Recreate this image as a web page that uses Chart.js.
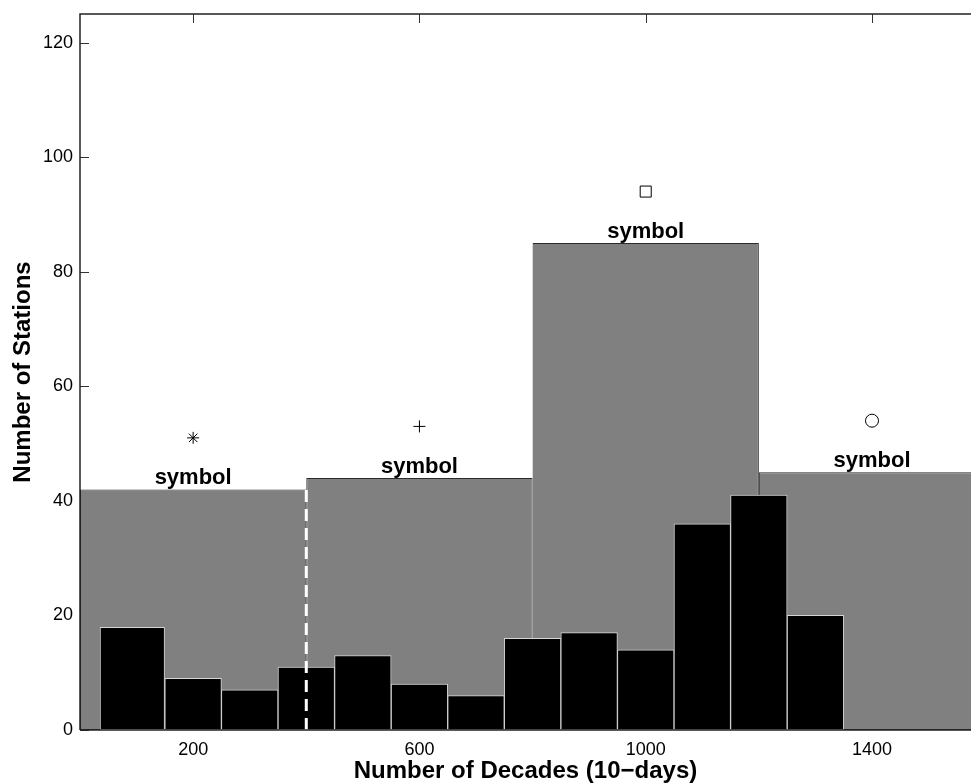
<!DOCTYPE html>
<html>
<head>
<meta charset="utf-8">
<script src="https://cdn.jsdelivr.net/npm/chart.js@4.4.1/dist/chart.umd.min.js"></script>
<style>
  html, body { margin: 0; padding: 0; background: #fff; overflow: hidden; }
</style>
</head>
<body>
<canvas id="decadeChart" width="971" height="783"></canvas>
<script>
// wide classes (gray bars behind the histogram)
let classCenters = [200, 600, 1000, 1400];
let classCounts = [42, 44, 85, 45];
let classLabels = ['symbol', 'symbol', 'symbol', 'symbol'];
// one marker above each class
let markerValues = [51, 53, 94, 54];
let markerStyles = ['star', 'cross', 'rect', 'circle'];
// histogram: bin edges and station counts
let binEdges = [35, 150, 250, 350, 450, 550, 650, 750, 850, 950, 1050, 1150, 1250, 1350];
let binCounts = [18, 9, 7, 11, 13, 8, 6, 16, 17, 14, 36, 41, 20];
// dashed threshold line
let thresholdX = 400;
let thresholdTop = 43;
// axis ticks
let xTicks = [200, 600, 1000, 1400];
let yTicks = [0, 20, 40, 60, 80, 100, 120];

const FONT = '"Liberation Sans", Arial, Helvetica, sans-serif';
const binStep = 100;    // narrowest spacing of bar centres
const classStep = 400;

let datasets = [];

datasets.push({
    type: 'bar',
    data: classCenters.map((x, i) => ({ x: x, y: classCounts[i] })),
    backgroundColor: '#808080',
    borderColor: '#2a2a2a',
    borderWidth: 1,
    borderSkipped: false,
    grouped: false,
    categoryPercentage: 1,
    barPercentage: classStep / binStep,
    order: 3
});

// each histogram bin gets its own width
binCounts.forEach((c, i) => {
    let lo = binEdges[i], hi = binEdges[i + 1];
    datasets.push({
        type: 'bar',
        data: [{ x: (lo + hi) / 2, y: c }],
        backgroundColor: '#000',
        borderColor: '#d4d4d4',
        borderWidth: 1,
        borderSkipped: false,
        grouped: false,
        categoryPercentage: 1,
        barPercentage: (hi - lo) / binStep,
        order: 2
    });
});

datasets.push({
    type: 'line',
    data: [{ x: thresholdX, y: 0 }, { x: thresholdX, y: thresholdTop }],
    borderColor: '#fff',
    borderWidth: 3,
    borderDash: [12, 7],
    pointRadius: 0,
    order: 1
});

datasets.push({
    type: 'line',
    data: classCenters.map((x, i) => ({ x: x, y: markerValues[i] })),
    showLine: false,
    pointStyle: markerStyles,
    pointRadius: [6, 6, 7.8, 6.5],
    pointBorderColor: '#000',
    pointBackgroundColor: 'rgba(0,0,0,0)',
    pointBorderWidth: 1,
    order: 0
});

// matlab-like box: inward ticks under the bars, axis lines on top
const framePlugin = {
    id: 'frame',
    beforeDatasetsDraw(chart) {
        const { ctx, chartArea: a, scales } = chart;
        ctx.save();
        ctx.strokeStyle = '#333';
        ctx.lineWidth = 1;
        ctx.beginPath();
        yTicks.forEach(v => {
            let y = Math.round(scales.y.getPixelForValue(v)) + 0.5;
            ctx.moveTo(a.left, y); ctx.lineTo(a.left + 9, y);
        });
        xTicks.forEach(v => {
            let x = Math.round(scales.x.getPixelForValue(v)) + 0.5;
            ctx.moveTo(x, a.top); ctx.lineTo(x, a.top + 9);
        });
        ctx.stroke();
        ctx.restore();
    },
    afterDatasetsDraw(chart) {
        const { ctx, chartArea: a } = chart;
        ctx.save();
        ctx.strokeStyle = '#222';
        ctx.lineWidth = 1.5;
        ctx.beginPath();
        ctx.moveTo(a.left, a.bottom); ctx.lineTo(a.left, a.top); ctx.lineTo(a.right, a.top);
        ctx.moveTo(a.left, a.bottom); ctx.lineTo(a.right, a.bottom);
        ctx.stroke();

        // class labels just above each gray bar
        const meta = chart.getDatasetMeta(0);
        ctx.font = 'bold 22px ' + FONT;
        ctx.fillStyle = '#000';
        ctx.textAlign = 'center';
        ctx.textBaseline = 'alphabetic';
        meta.data.forEach((bar, i) => {
            ctx.fillText(classLabels[i], bar.x, bar.y - 5);
        });
        ctx.restore();
    }
};

let ctx = document.getElementById('decadeChart').getContext('2d');
let chart = new Chart(ctx, {
    type: 'bar',
    data: { datasets: datasets },
    options: {
        responsive: false,
        animation: false,
        devicePixelRatio: 1,
        layout: { autoPadding: false, padding: { top: 14, left: 0, right: 0, bottom: 0 } },
        plugins: {
            legend: { display: false },
            tooltip: { enabled: false }
        },
        scales: {
            x: {
                type: 'linear',
                min: 0,
                max: 1575,
                offset: false,
                grid: { display: false, drawTicks: false, offset: false },
                border: { display: false },
                afterBuildTicks: s => { s.ticks = xTicks.map(v => ({ value: v })); },
                afterFit: s => { s.height = 53; s.paddingLeft = 0; s.paddingRight = 0; },
                ticks: {
                    padding: 9,
                    color: '#000',
                    font: { family: FONT, size: 18 },
                    maxRotation: 0,
                    callback: v => String(v)
                },
                title: {
                    display: true,
                    text: 'Number of Decades (10\u2212days)',
                    color: '#000',
                    font: { family: FONT, size: 24, weight: 'bold', lineHeight: 1 },
                    padding: { top: 0, bottom: 0 }
                }
            },
            y: {
                min: 0,
                max: 125,
                grid: { display: false, drawTicks: false },
                border: { display: false },
                afterBuildTicks: s => { s.ticks = yTicks.map(v => ({ value: v })); },
                afterFit: s => { s.width = 80; s.paddingTop = 0; s.paddingBottom = 0; },
                ticks: {
                    padding: 7,
                    color: '#000',
                    font: { family: FONT, size: 18 }
                },
                title: {
                    display: true,
                    text: 'Number of Stations',
                    color: '#000',
                    font: { family: FONT, size: 24, weight: 'bold', lineHeight: 1 },
                    padding: { top: 11, bottom: 0 }
                }
            }
        }
    },
    plugins: [framePlugin]
});
</script>
</body>
</html>
